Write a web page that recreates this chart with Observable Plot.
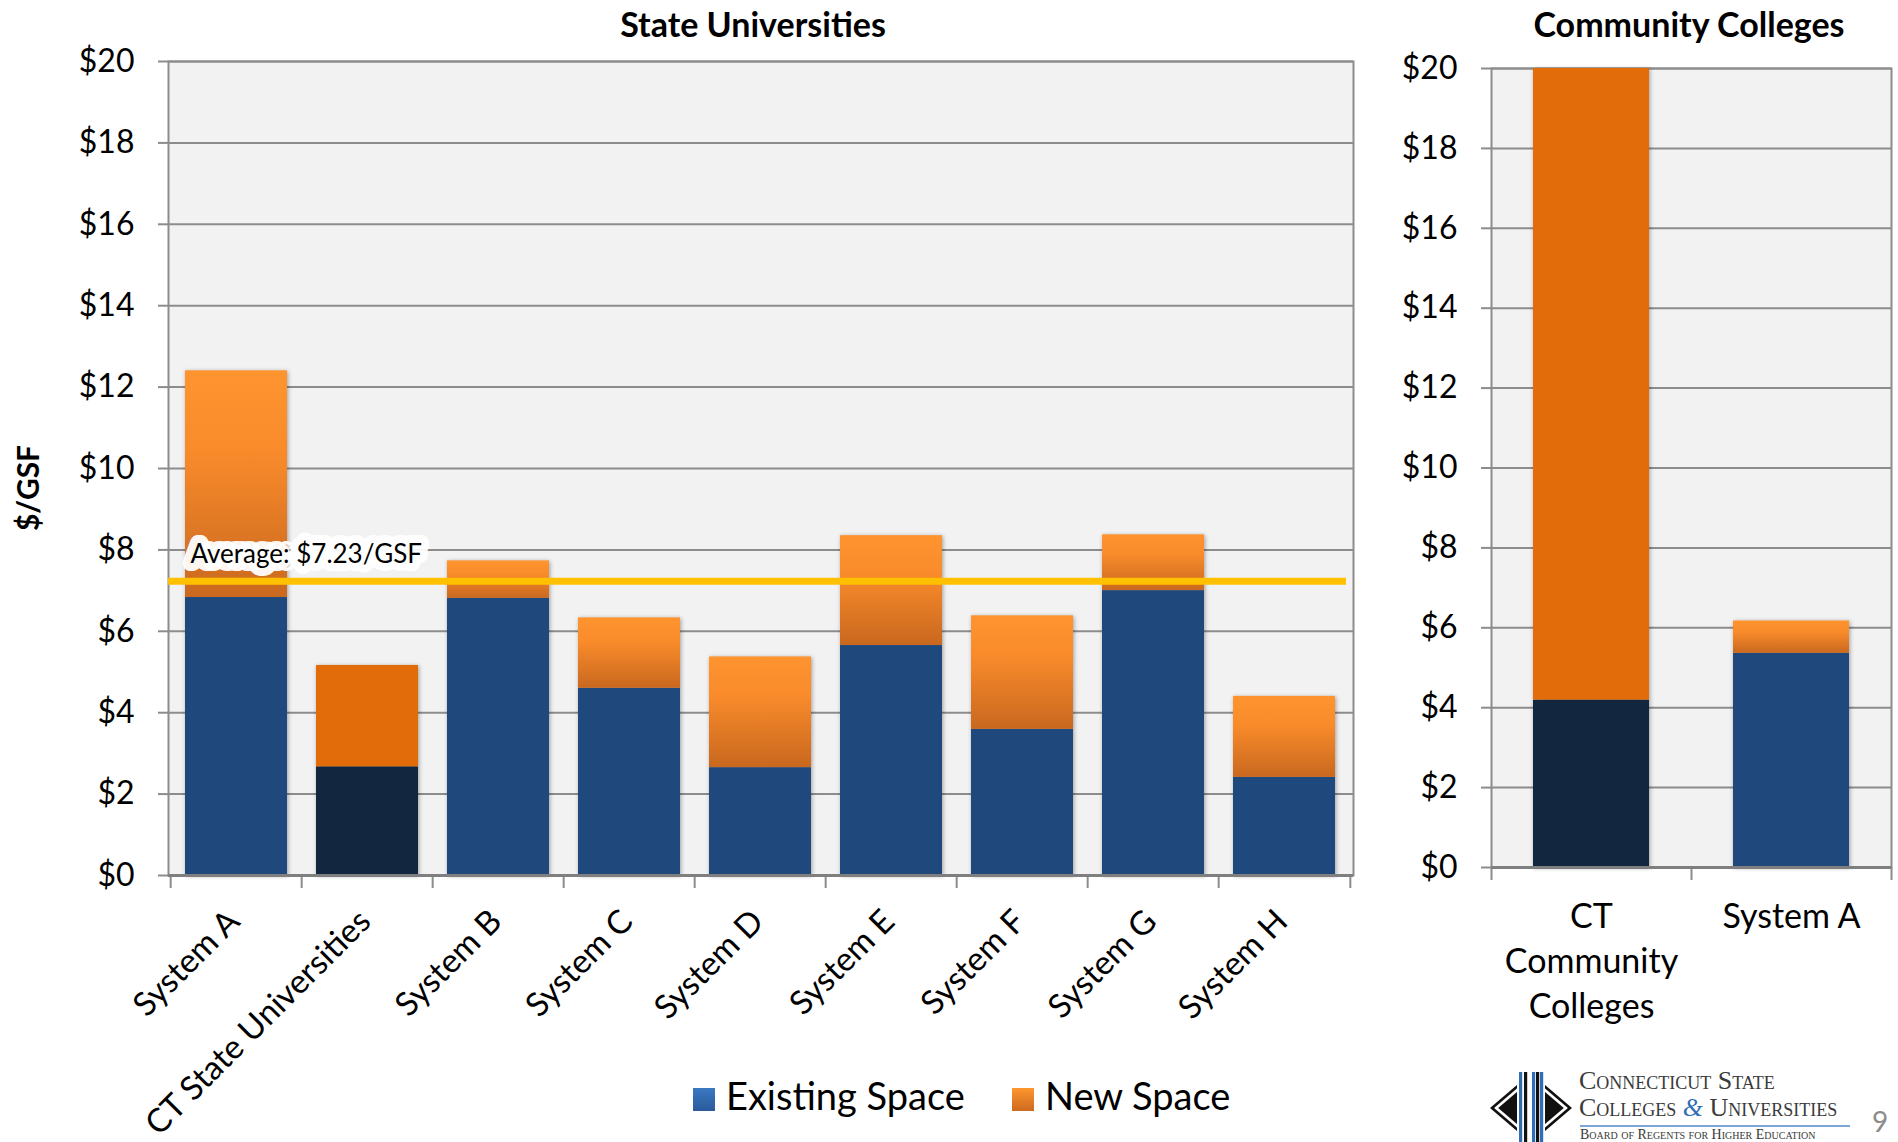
<!DOCTYPE html>
<html><head><meta charset="utf-8">
<script src="https://cdn.jsdelivr.net/npm/d3@7"></script>
<script src="https://cdn.jsdelivr.net/npm/@observablehq/plot@0.6"></script>
<style>
html,body{margin:0;padding:0;background:#fff;width:1898px;height:1142px;overflow:hidden;font-family:Lato,"Open Sans",sans-serif;}
#page{position:relative;width:1898px;height:1142px;overflow:hidden;}
.title{font-weight:700;font-size:34px;color:#000;white-space:nowrap;transform:translateX(-50%);}
.leg{font-size:38px;color:#000;white-space:nowrap;}
.sw{width:22px;height:23px;}
.logo{font-family:"Liberation Serif","DejaVu Serif",serif;font-variant:small-caps;color:#3a3a3a;white-space:nowrap;}
</style></head><body><div id="page"></div>
<script>
// ---------- data ----------
const suCategories = ["System A","CT State Universities","System B","System C","System D","System E","System F","System G","System H"];
const suExisting   = [6.83, 2.67, 6.81, 4.60, 2.65, 5.65, 3.59, 7.00, 2.41];
const suNew        = [5.57, 2.49, 0.92, 1.73, 2.72, 2.70, 2.79, 1.37, 1.99];
const suHighlight  = "CT State Universities";
const suAverage    = 7.23;
const suAverageLabel = "Average: $7.23/GSF";

const ccCategories = ["CT Community Colleges","System A"];
const ccTickLabels = ["CT\nCommunity\nColleges","System A"];
const ccExisting   = [4.19, 5.36];
const ccNew        = [15.81, 0.81];
const ccHighlight  = "CT Community Colleges";

const yTicks = [0,2,4,6,8,10,12,14,16,18,20];
const yTickLabels = ["$0","$2","$4","$6","$8","$10","$12","$14","$16","$18","$20"];
const seriesNames = ["Existing Space","New Space"];
const titles = ["State Universities","Community Colleges"];
const yLabel = "$/GSF";

// ---------- helpers ----------
function rowsFrom(cats, ex, nw, hi) {
  return cats.flatMap((c,i)=>[
    {cat:c, type:seriesNames[0], value:ex[i], hi:c===hi},
    {cat:c, type:seriesNames[1], value:nw[i], hi:c===hi}
  ]);
}
function gradDefs(id) {
  return () => {
    const d = d3.create("svg:defs");
    const g = d.append("linearGradient").attr("id", id).attr("x1",0).attr("y1",0).attr("x2",0).attr("y2",1);
    g.append("stop").attr("offset","0%").attr("stop-color","#FF942F");
    g.append("stop").attr("offset","35%").attr("stop-color","#F98B2B");
    g.append("stop").attr("offset","100%").attr("stop-color","#C9681F");
    return d.node();
  };
}
const fillFor = (id) => d => d.type === seriesNames[0]
  ? (d.hi ? "#13263F" : "#1F497D")
  : (d.hi ? "#E36C0A" : `url(#${id})`);
const tickFmt = d => yTickLabels[yTicks.indexOf(d)];
const GRID = "#8c8c8c";

const page = document.getElementById("page");
function place(el, left, top) { el.style.position="absolute"; el.style.left=left+"px"; el.style.top=top+"px"; page.appendChild(el); return el; }

// ---------- left chart ----------
{
  const W = 1380, H = 1060, mL = 168, mR = W - 1353, mT = 61, mB = H - 875;
  const step = (W - mL - mR) / suCategories.length;
  const frameH = H - mT - mB;
  const rows = rowsFrom(suCategories, suExisting, suNew, suHighlight);
  const chart = Plot.plot({
    width: W, height: H, marginLeft: mL, marginRight: mR, marginTop: mT, marginBottom: mB,
    style: {fontFamily: "Lato, 'Open Sans', sans-serif", background: "transparent", overflow: "visible"},
    x: {domain: suCategories, type: "band", paddingInner: 0.22, paddingOuter: 0.11, axis: null},
    y: {domain: [0, 20], axis: null, label: null},
    color: {type: "identity"},
    marks: [
      gradDefs("suOrange"),
      Plot.frame({fill: "#F2F2F2", stroke: GRID, strokeWidth: 2}),
      Plot.gridY(yTicks, {stroke: GRID, strokeOpacity: 1, strokeWidth: 2}),
      Plot.axisY(yTicks, {label: null, tickFormat: tickFmt, tickSize: 10, tickPadding: 24, fontSize: 32, stroke: GRID, strokeWidth: 2, fill: "#000"}),
      Plot.ruleX(suCategories, {x: d => d, dx: -step/2, insetTop: frameH, insetBottom: -13, stroke: GRID, strokeWidth: 2}),
      Plot.ruleX(suCategories.slice(-1), {x: d => d, dx: step/2, insetTop: frameH, insetBottom: -13, stroke: GRID, strokeWidth: 2}),
      Plot.barY(rows, {x: "cat", y: "value", fill: fillFor("suOrange"), imageFilter: "drop-shadow(1px 1px 2px rgba(0,0,0,0.35))"}),
      Plot.ruleY([0], {stroke: "#7f7f7f", strokeWidth: 3}),
      Plot.ruleY([suAverage], {stroke: "#FFC000", strokeWidth: 7, insetRight: 7}),
      Plot.text([suAverageLabel], {frameAnchor: "left", y: () => suAverage, text: d => d, dx: 22, dy: -27, textAnchor: "start", fontSize: 26, fill: "#000", stroke: "#fff", strokeWidth: 16, strokeOpacity: 0.95}),
      Plot.text(suCategories, {x: d => d, frameAnchor: "bottom", text: d => d, rotate: -45, textAnchor: "end", dx: 5, dy: 48, fontSize: 33, fill: "#000"})
    ]
  });
  place(chart, 0, 0);
}

// ---------- right chart ----------
{
  const left0 = 1380;
  const W = 518, H = 1060, mL = 1491 - left0, mR = W - (1891 - left0), mT = 68, mB = H - 867;
  const step = (W - mL - mR) / ccCategories.length;
  const frameH = H - mT - mB;
  const rows = rowsFrom(ccCategories, ccExisting, ccNew, ccHighlight);
  const chart = Plot.plot({
    width: W, height: H, marginLeft: mL, marginRight: mR, marginTop: mT, marginBottom: mB,
    style: {fontFamily: "Lato, 'Open Sans', sans-serif", background: "transparent", overflow: "visible"},
    x: {domain: ccCategories, type: "band", paddingInner: 0.42, paddingOuter: 0.21, axis: null},
    y: {domain: [0, 20], axis: null, label: null},
    color: {type: "identity"},
    marks: [
      gradDefs("ccOrange"),
      Plot.frame({fill: "#F2F2F2", stroke: GRID, strokeWidth: 2}),
      Plot.gridY(yTicks, {stroke: GRID, strokeOpacity: 1, strokeWidth: 2}),
      Plot.axisY(yTicks, {label: null, tickFormat: tickFmt, tickSize: 10, tickPadding: 24, fontSize: 32, stroke: GRID, strokeWidth: 2, fill: "#000"}),
      Plot.ruleX(ccCategories, {x: d => d, dx: -step/2, insetTop: frameH, insetBottom: -13, stroke: GRID, strokeWidth: 2}),
      Plot.ruleX(ccCategories.slice(-1), {x: d => d, dx: step/2, insetTop: frameH, insetBottom: -13, stroke: GRID, strokeWidth: 2}),
      Plot.barY(rows, {x: "cat", y: "value", fill: fillFor("ccOrange"), imageFilter: "drop-shadow(1px 1px 2px rgba(0,0,0,0.35))"}),
      Plot.ruleY([0], {stroke: "#7f7f7f", strokeWidth: 3}),
      Plot.text(ccCategories, {x: d => d, frameAnchor: "bottom", text: (d, i) => ccTickLabels[i], lineAnchor: "top", lineHeight: 1.32, dy: 29, fontSize: 34, fill: "#000"})
    ]
  });
  place(chart, left0, 0);
}

// ---------- titles & labels ----------
{
  const t1 = document.createElement("div"); t1.className = "title"; t1.textContent = titles[0]; place(t1, 753, 3);
  const t2 = document.createElement("div"); t2.className = "title"; t2.textContent = titles[1]; place(t2, 1689, 3);
  const yl = document.createElement("div");
  yl.textContent = yLabel;
  yl.style.cssText = "font-weight:700;font-size:30px;white-space:nowrap;transform:translate(-50%,-50%) rotate(-90deg);";
  place(yl, 27, 488);
}

// ---------- legend ----------
{
  const specs = [
    {name: seriesNames[0], bg: "linear-gradient(#3B78C3,#2A5A99)", sx: 693, tx: 726},
    {name: seriesNames[1], bg: "linear-gradient(#FF962F,#CC6A1F)", sx: 1012, tx: 1045}
  ];
  specs.forEach(s => {
    const sw = document.createElement("div"); sw.className = "sw"; sw.style.background = s.bg; place(sw, s.sx, 1088);
    const tx = document.createElement("div"); tx.className = "leg"; tx.textContent = s.name; place(tx, s.tx, 1072);
  });
}

// ---------- logo & page number ----------
{
  const svg = d3.create("svg").attr("width", 90).attr("height", 80);
  const cx = 43, cy = 38, hw = 41, hh = 35;
  const dia = (s) => `${cx-hw*s},${cy} ${cx},${cy-hh*s} ${cx+hw*s},${cy} ${cx},${cy+hh*s}`;
  svg.append("polygon").attr("points", dia(1)).attr("fill", "#111");
  svg.append("polygon").attr("points", dia(0.9)).attr("fill", "#fff");
  svg.append("polygon").attr("points", dia(0.8)).attr("fill", "#111");
  svg.append("rect").attr("x", cx-14).attr("y", 0).attr("width", 28).attr("height", 80).attr("fill", "#fff");
  [[-12,"#2F6DB5"],[-7,"#111"],[-3,"#fff"],[1,"#2F6DB5"],[5,"#111"],[9,"#2F6DB5"]].forEach(([x,c]) =>
    svg.append("rect").attr("x", cx+x).attr("y", 2).attr("width", 3.2).attr("height", 78).attr("fill", c));
  place(svg.node(), 1488, 1070);

  const l1 = document.createElement("div"); l1.className = "logo"; l1.style.fontSize = "26px"; l1.textContent = "Connecticut State"; place(l1, 1579, 1066);
  const l2 = document.createElement("div"); l2.className = "logo"; l2.style.fontSize = "26px";
  l2.innerHTML = 'Colleges <span style="font-style:italic;color:#2F6DB5">&amp;</span> Universities'; place(l2, 1579, 1093);
  const ln = document.createElement("div"); ln.style.cssText = "width:270px;height:2px;background:#7FA7D6;"; place(ln, 1580, 1125);
  const l3 = document.createElement("div"); l3.className = "logo"; l3.style.fontSize = "14px"; l3.style.lineHeight = "14px"; l3.textContent = "Board of Regents for Higher Education"; place(l3, 1580, 1128);
  const pg = document.createElement("div"); pg.textContent = "9"; pg.style.cssText = "font-size:28px;color:#8c8c8c;"; place(pg, 1872, 1104);
}
</script></body></html>
